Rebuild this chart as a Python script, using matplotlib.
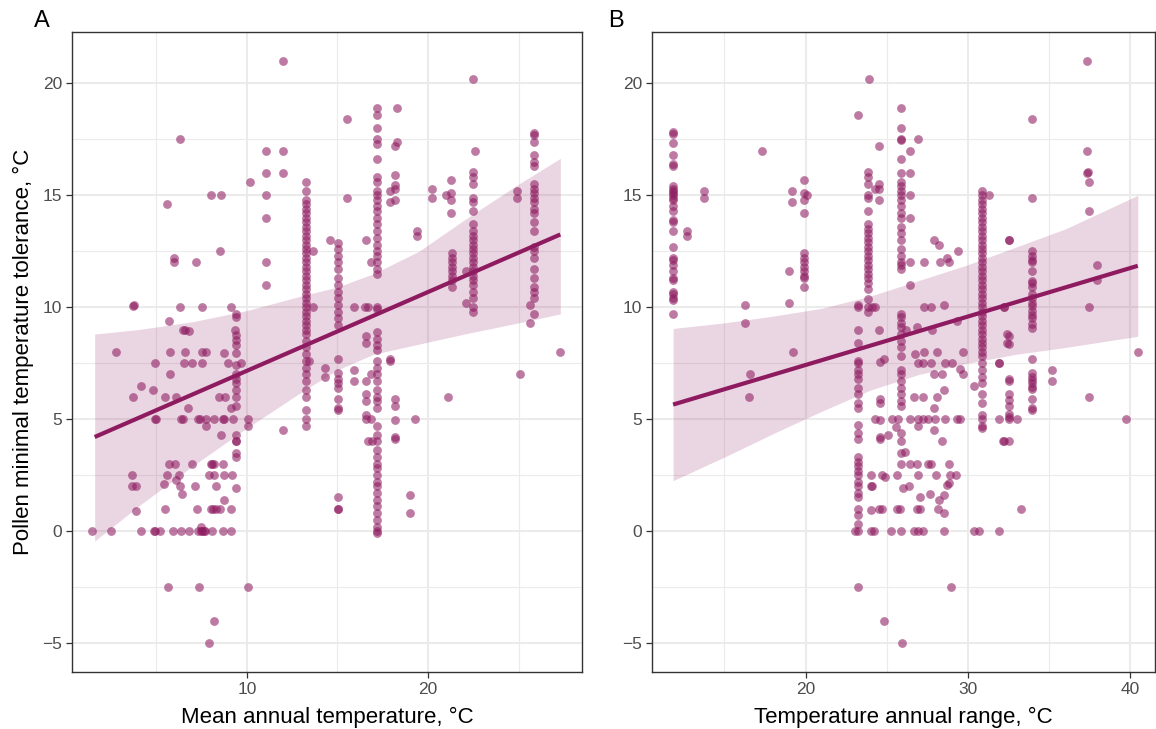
import numpy as np
import matplotlib.pyplot as plt
from matplotlib.ticker import MultipleLocator

plt.rcParams['font.family'] = ['Liberation Sans', 'DejaVu Sans']

# ---- Panel A: mean annual temperature vs pollen minimal temperature tolerance
a_pts = [
    (1.45, 0), (2.5, 0), (3.7, 10.05), (3.75, 10.1), (6.3, 10), (7.5, 10), (9.15, 10), (5.7, 9.4),
    (6.45, 9), (6.6, 9), (6.8, 8.95), (9.35, 9.0), (2.8, 8.0), (5.75, 8), (6.6, 8), (7.5, 8), (7.75, 8), (8.75, 7.95),
    (4.95, 7.5), (6.55, 7.5), (6.95, 7.5), (7.5, 7.5), (8.95, 7.5), (9.7, 7.5), (5.75, 7.0), (4.15, 6.5), (4.8, 6.3),
    (3.7, 6.0), (5.5, 6.0), (6.1, 6.0), (8.45, 6), (8.8, 6), (6.75, 5.5), (9.15, 5.5),
    (4.95, 5), (5.0, 5), (6.35, 5), (6.45, 5), (7.3, 5), (7.4, 5), (7.75, 5), (8.2, 5), (8.7, 5), (8.75, 5), (9.25, 5), (10.05, 5),
    (7.75, 4.7), (8.6, 4.3), (10.05, 4.7),
    (5.7, 3), (6.05, 3), (6.95, 3), (8.0, 3), (8.1, 3), (8.2, 3), (8.7, 3),
    (3.65, 2.5), (5.6, 2.5), (6.25, 2.5), (7.9, 2.5), (8.2, 2.5), (8.75, 2.5), (9.2, 2.5),
    (5.4, 2.1), (6.1, 2.3), (3.65, 2.0), (3.9, 2.0), (6.3, 2.0), (7.15, 2.0), (8.3, 2.0), (6.4, 1.65), (8.75, 1.4),
    (3.9, 0.9), (5.5, 1.0), (7.25, 1.0), (8.0, 1.0), (8.15, 1.0), (8.3, 1.0), (8.5, 1.0), (9.15, 1.0), (7.45, 0.2),
    (4.15, 0), (4.85, 0), (4.95, 0), (5.2, 0), (5.9, 0), (6.35, 0), (6.8, 0), (7.3, 0), (7.45, 0), (7.5, 0),
    (7.65, 0), (7.7, 0), (8.1, 0), (8.7, 0), (9.15, 0),
    (5.65, -2.5), (7.35, -2.5), (10.05, -2.5), (8.2, -4.0), (7.9, -5.0),
    (6.3, 17.5), (10.15, 15.6), (8.0, 15), (8.6, 15), (5.6, 14.6), (8.5, 12.5), (6.0, 12.2), (6.0, 12.0), (7.2, 12.0),
    (12.0, 21.0), (11.05, 17), (12.0, 17), (11.05, 16), (12.0, 16), (11.05, 15), (11.05, 14), (11.05, 12), (11.05, 11), (12.0, 4.5),
    (13.65, 12.5), (13.65, 10), (13.45, 7.6), (14.3, 7.3), (14.3, 6.9), (14.6, 13.0),
    (15.5, 18.4), (15.5, 14.9), (15.9, 10), (16.5, 10), (16.7, 10), (16.6, 13.0), (16.6, 8.7), (16.6, 8.4), (15.9, 7.2), (15.9, 6.7),
    (16.6, 6.7), (16.6, 6.1), (16.6, 5.8), (16.6, 5.2), (16.6, 5.0), (16.85, 7.0), (16.85, 5.0), (16.7, 4.0), (16.9, 4.0), (16.85, 12.0),
    (18.3, 18.9), (18.3, 17.4), (18.2, 17.2), (18.2, 15.9), (18.2, 15.45), (18.2, 15.3), (17.9, 15.2), (17.9, 14.7), (18.2, 14.8),
    (19.4, 13.4), (19.4, 13.2), (17.9, 7.7), (17.9, 7.6), (18.2, 5.9), (18.2, 5.6), (18.2, 4.95), (18.2, 4.2), (18.2, 4.1),
    (19.0, 1.6), (19.0, 0.8), (19.3, 5.0),
    (22.5, 20.2), (22.6, 17.0), (20.2, 15.3), (20.2, 14.9), (21.0, 15.0), (21.25, 15.7), (21.25, 15.1), (21.25, 14.8), (21.25, 14.2),
    (22.1, 11.6), (22.1, 10.2), (21.1, 6.0), (25.1, 7.0), (27.3, 8.0), (24.9, 15.2), (24.9, 14.9), (25.6, 10.1), (25.6, 9.3),
]

# stacks of records sharing the same temperature value
a_col_x = [9.4, 13.25, 15.05, 17.2, 21.3, 22.5, 25.85]
a_col_94 = [9.7, 9.55, 8.75, 8.55, 8.3, 7.95, 7.4, 7.0, 6.8, 6.6, 6.3, 6.0, 5.6, 4.3, 4.0, 4.0, 3.5, 3.3, 1.9]
a_col_133 = [15.6, 15.2, 14.8, 14.6, 14.4, 14.2, 14.0, 13.8, 13.6, 13.4, 13.2, 13.0, 12.8, 12.6, 12.4, 12.2, 12.0,
             11.8, 11.6, 11.4, 11.2, 11.0, 10.8, 10.6, 10.4, 10.2, 10.0, 9.8, 9.6, 9.4, 9.2, 9.0, 8.8, 8.5, 8.2,
             7.9, 7.6, 7.3, 7.0, 6.7, 6.3, 6.0, 5.4, 5.0, 4.7]
a_col_150 = [12.85, 12.6, 12.3, 12.0, 11.7, 11.3, 11.0, 10.7, 10.4, 10.1, 9.8, 9.5, 9.2, 7.7, 7.05, 6.8, 6.6, 6.4,
             5.9, 5.5, 5.4, 1.5, 1.0, 1.0]
a_col_172 = [18.9, 18.6, 18.0, 17.5, 17.3, 16.6, 15.8, 15.6, 15.2, 15.0, 14.8, 14.5, 14.3, 14.0, 13.7, 13.4, 13.1,
             12.8, 12.5, 12.3, 12.0, 11.7, 11.5, 10.0, 9.9, 8.9, 8.6, 8.3, 8.1, 7.6, 7.3, 7.0, 6.7, 6.3, 6.0, 5.8,
             5.5, 4.7, 4.3, 4.0, 3.6, 3.3, 3.0, 2.8, 2.5, 2.2, 2.0, 1.7, 1.4, 1.1, 0.8, 0.5, 0.2, 0.0, -0.1]
a_col_213 = [12.4, 12.2, 12.0, 11.8, 11.6, 11.4, 11.2, 10.9]
a_col_225 = [16.05, 15.8, 15.5, 14.9, 14.7, 14.3, 13.7, 13.4, 13.2, 13.0, 12.8, 12.6, 12.4, 12.2, 12.0, 11.8,
             11.6, 11.4, 11.2, 11.0, 10.7, 10.4, 10.0, 9.8]
a_col_259 = [17.8, 17.7, 17.4, 16.8, 16.5, 16.3, 15.5, 15.3, 15.1, 14.9, 14.7, 14.4, 14.2, 13.8, 13.4, 12.7,
             12.5, 12.2, 11.7, 11.3, 10.9, 10.7, 10.4, 9.7]
a_cols = [a_col_94, a_col_133, a_col_150, a_col_172, a_col_213, a_col_225, a_col_259]

# fitted line and its band
a_fit_x = [1.6, 27.3]
a_fit_y = [4.2, 13.25]
a_band_x = [1.6, 4, 7, 10, 13, 15, 17, 19.5, 22, 25, 27.3]
a_band_lo = [-0.45, 1.1, 2.9, 4.6, 6.2, 7.2, 7.9, 8.35, 8.8, 9.3, 9.7]
a_band_hi = [8.8, 9.0, 9.35, 9.85, 10.5, 10.9, 11.5, 12.5, 13.9, 15.5, 16.65]

# ---- Panel B: temperature annual range vs pollen minimal temperature tolerance
b_pts = [
    (13.75, 15.2), (13.75, 14.9), (12.7, 13.4), (12.7, 13.2), (17.3, 17.0), (16.3, 10.1), (16.3, 9.3), (16.6, 7.0), (16.5, 6.0),
    (19.15, 15.2), (19.15, 14.7), (19.9, 15.7), (19.9, 15.1), (20.1, 15.0), (19.9, 14.8), (19.9, 14.2), (19.0, 11.6), (19.0, 10.2), (19.2, 8.0),
    (23.9, 20.2), (23.25, 18.6), (25.9, 18.9), (24.55, 17.2), (25.9, 18.0), (26.9, 17.5), (25.9, 17.5), (25.9, 17.45), (26.4, 17.0),
    (25.9, 16.6), (26.4, 16.0),
    (24.3, 15.3), (24.55, 15.5), (24.55, 15.3), (24.55, 14.8), (23.25, 10.1), (23.25, 10.0), (24.1, 10.0), (24.3, 10.0),
    (26.4, 15.0), (26.4, 14.0), (26.4, 12.0), (25.9, 12.0), (26.4, 11.0), (27.9, 13.0), (28.2, 12.8), (27.3, 12.0), (28.3, 12.0),
    (28.7, 12.2), (28.8, 12.0),
    (31.3, 15.0), (29.4, 12.5), (32.5, 13.0),
    (23.2, -2.5), (24.85, -4.0), (25.95, -5.0), (24.5, 9.0),
    (26.2, 9.0), (26.85, 9.1), (27.3, 10.0), (27.7, 10.0), (28.5, 10.1), (27.8, 9.0), (29.3, 9.4), (32.2, 10.0), (32.4, 8.8), (32.4, 8.4),
    (29.67, 8.0), (31.9, 7.5), (29.0, 7.5), (28.6, 7.5), (27.3, 8.0), (28.1, 8.0), (26.75, 7.9), (26.9, 7.5), (27.2, 7.5), (27.7, 7.5),
    (27.9, 7.0), (28.4, 7.0), (29.5, 7.25), (29.7, 7.0), (24.6, 7.55), (24.8, 7.7),
    (24.6, 5.9), (24.6, 5.7), (24.25, 5.0), (24.6, 4.95), (24.6, 4.2), (24.6, 4.1), (25.05, 4.3), (24.05, 2.5), (24.7, 2.5), (24.9, 2.4),
    (24.05, 2.0), (24.1, 2.0), (24.05, 0.95), (24.5, 1.0), (24.7, 1.0),
    (23.05, 0), (24.0, 0), (24.2, 0), (25.25, 0), (25.85, 0), (26.7, 0), (26.95, 0), (27.25, 0), (28.5, 0), (30.35, 0), (30.65, 0), (31.9, 0),
    (28.95, -2.5), (26.65, 6.0), (27.25, 6.0), (28.1, 6.0), (28.5, 6.3), (27.9, 5.5),
    (25.35, 5), (25.7, 5), (26.45, 5), (26.95, 5), (27.25, 5), (27.55, 5), (27.95, 5), (28.6, 5), (29.3, 5), (29.5, 5),
    (25.55, 4.65), (26.95, 4.7), (27.9, 4.5), (28.4, 4.0),
    (26.1, 3.55), (25.9, 3.0), (26.45, 3.0), (26.85, 3.0), (27.55, 3.0), (27.75, 3.0), (28.8, 3.0),
    (25.6, 2.5), (26.9, 2.5), (28.0, 2.5), (28.9, 2.5), (29.25, 2.5),
    (26.35, 2.0), (26.0, 1.9), (28.7, 2.05), (28.8, 2.15), (27.05, 1.5), (27.65, 1.65), (28.2, 1.4), (28.5, 1.6),
    (25.6, 1.0), (25.8, 1.0), (26.85, 1.0), (27.05, 1.0), (28.15, 1.0), (28.5, 0.8),
    (30.4, 6.5), (31.9, 5.0), (32.2, 4.0), (32.55, 4.0), (32.5, 6.8),
    (37.35, 21.0), (33.95, 18.4), (37.35, 17.0), (37.35, 16.0), (37.4, 16.05), (37.45, 15.6), (33.95, 14.9), (37.45, 14.3), (32.55, 13.0),
    (37.95, 11.9), (37.95, 11.2), (37.45, 10.0), (32.2, 10.0), (32.55, 8.7), (32.55, 8.35), (40.45, 8.0),
    (35.15, 7.2), (35.15, 6.7), (32.55, 6.7), (33.0, 5.0), (31.9, 7.5), (32.15, 4.0), (33.25, 1.0), (37.45, 6.0), (39.75, 5.0),
]

b_col_x = [11.85, 19.9, 23.25, 23.85, 25.9, 30.85, 32.55, 33.95]
b_col_119 = [17.85, 17.75, 17.35, 16.8, 16.4, 16.3, 15.4, 15.3, 15.2, 15.1, 15.0, 14.9, 14.8, 14.5, 14.3, 13.9, 13.8,
             13.4, 12.7, 12.2, 12.1, 11.9, 11.6, 11.3, 11.2, 10.7, 10.6, 10.4, 10.3, 9.7]
b_col_199 = [12.4, 12.2, 12.0, 11.8, 11.6, 11.4, 11.3, 10.9]
b_col_233 = [9.0, 8.4, 7.6, 7.5, 7.2, 7.0, 6.8, 6.4, 6.1, 5.7, 5.5, 4.75, 4.4, 4.1, 3.3, 3.1, 2.9, 2.7, 2.5, 2.2,
             2.0, 1.7, 1.5, 1.0, 0.7, 0.3, 0.0]
b_col_239 = [16.05, 15.8, 15.5, 15.0, 14.9, 14.3, 13.7, 13.5, 13.3, 13.1, 12.9, 12.7, 12.5, 12.3, 12.1, 11.9, 11.7,
             11.5, 11.3, 11.1, 10.8, 10.35, 10.0, 9.8]
b_col_259 = [16.0, 15.6, 15.4, 15.2, 15.0, 14.8, 14.5, 14.2, 14.0, 13.6, 13.3, 13.0, 12.6, 12.3, 11.9, 11.7,
             9.7, 9.55, 9.3, 9.1, 8.8, 8.5, 8.2, 7.8, 7.2, 7.0, 6.7, 6.4, 6.1, 5.8, 5.6, 4.4, 4.0, 3.5]
b_col_309 = [15.2, 15.0, 14.8, 14.6, 14.4, 14.2, 14.0, 13.8, 13.6, 13.4, 13.2, 13.0, 12.8, 12.6, 12.4, 12.2, 12.0,
             11.8, 11.6, 11.4, 11.2, 11.0, 10.8, 10.6, 10.4, 10.2, 10.0, 9.8, 9.6, 9.4, 9.2, 9.0, 8.8, 8.6, 8.4,
             8.2, 8.0, 7.8, 7.5, 7.2, 6.9, 6.6, 6.1, 5.7, 5.2, 5.0, 4.7, 4.6]
b_col_326 = [6.1, 5.85, 5.6, 5.25, 5.1, 5.0]
b_col_340 = [12.5, 12.3, 12.1, 12.0, 11.6, 11.15, 11.1, 10.9, 10.6, 10.4, 10.2, 10.05, 9.85, 9.65, 9.5, 9.25,
             9.05, 7.7, 7.05, 6.9, 6.75, 6.6, 6.45, 6.35, 5.9, 5.5, 5.4]
b_cols = [b_col_119, b_col_199, b_col_233, b_col_239, b_col_259, b_col_309, b_col_326, b_col_340]

b_fit_x = [11.85, 40.45]
b_fit_y = [5.65, 11.85]
b_band_x = [11.85, 15, 18, 21, 24, 27, 30, 33, 36, 40.45]
b_band_lo = [2.25, 3.3, 4.35, 5.35, 6.3, 7.0, 7.5, 7.9, 8.2, 8.7]
b_band_hi = [9.05, 9.3, 9.6, 9.95, 10.5, 11.2, 11.9, 12.7, 13.5, 15.0]

col = '#8E1B60'
fig = plt.figure(figsize=(11.56, 7.29), dpi=100)


def build(pts, col_x, cols):
    xs = [p[0] for p in pts]
    ys = [p[1] for p in pts]
    for cx, cy in zip(col_x, cols):
        xs += [cx] * len(cy)
        ys += cy
    return np.array(xs), np.array(ys)


def style(ax, xmajor):
    ax.xaxis.set_major_locator(MultipleLocator(xmajor))
    ax.xaxis.set_minor_locator(MultipleLocator(xmajor / 2))
    ax.yaxis.set_major_locator(MultipleLocator(5))
    ax.yaxis.set_minor_locator(MultipleLocator(2.5))
    ax.grid(which='major', color='#EBEBEB', lw=1.5)
    ax.grid(which='minor', color='#EBEBEB', lw=0.8)
    ax.set_axisbelow(True)
    for s in ax.spines.values():
        s.set_color('#333333')
        s.set_linewidth(1.0)
    ax.tick_params(which='major', length=4, width=0.9, color='#333333', labelsize=12.5,
                   labelcolor='#4D4D4D', pad=3)
    ax.tick_params(which='minor', length=0)


panels = [
    ([0.0623, 0.0782, 0.4412, 0.878], a_pts, a_col_x, a_cols, a_fit_x, a_fit_y, a_band_x, a_band_lo, a_band_hi,
     (0.35, 28.5), 10, 'Mean annual temperature, °C', 'A', -0.075),
    ([0.564, 0.0782, 0.435, 0.878], b_pts, b_col_x, b_cols, b_fit_x, b_fit_y, b_band_x, b_band_lo, b_band_hi,
     (10.55, 41.5), 10, 'Temperature annual range, °C', 'B', -0.087),
]

for rect, pts, cx, cy, fx, fy, bx, blo, bhi, xlim, xm, xlabel, tag, tag_x in panels:
    ax = fig.add_axes(rect)
    x, y = build(pts, cx, cy)
    ax.fill_between(bx, blo, bhi, color=col, alpha=0.18, lw=0, zorder=2)
    ax.scatter(x, y, s=40, color=col, alpha=0.58, lw=0, zorder=3)
    ax.plot(fx, fy, color=col, lw=3, solid_capstyle='butt', zorder=4)
    ax.set_xlim(*xlim)
    ax.set_ylim(-6.3, 22.3)
    style(ax, xm)
    ax.set_xlabel(xlabel, fontsize=16, labelpad=7)
    ax.text(tag_x, 1.0, tag, transform=ax.transAxes, fontsize=17, ha='left', va='bottom')
    if tag == 'A':
        ax.set_ylabel('Pollen minimal temperature tolerance, °C', fontsize=16, labelpad=6)

fig.savefig('out.png', dpi=100)
